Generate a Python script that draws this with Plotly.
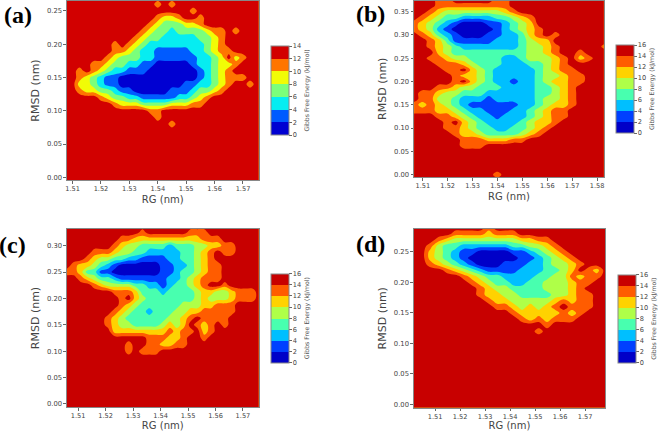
import numpy as np
import plotly.graph_objects as go

W, H = 658, 431
# Each string is one RMSD row (top to bottom); each digit is the free-energy band read from
# the picture: 0 = 0-2 kJ/mol, 1 = 2-4, ... Rows below the listed ones are all highest band.
rows_a = [
 "66666666666666666666566666666",
 "66666666666665656666666666666",
 "66666666666666666656666666666",
 "66666666666665445665666666666",
 "66666666666654333445666666666",
 "66666666666543323333455656666",
 "66666666665433222223345666666",
 "66666665654322222222345666666",
 "66666665543221111122345566666",
 "66666654333221111112234645666",
 "66665543322110000012234456666",
 "66565432211100000001234566666",
 "66543211000000000001234555666",
 "66443211000000000112234566566",
 "66544332110000011123345666666",
 "66666543322111112234566666666",
 "66666665444333344455666666666",
 "66666666666655666666666666666",
 "66666666666665666666666666666",
 "66666666666666656666666666666",
]
rows_b = [
 "777667777766777777777777",
 "777666666666777777777777",
 "776544444445677777777777",
 "765433222233456777777777",
 "654321000112345777777777",
 "654210000012345677777777",
 "765321000112235676777777",
 "776531111122234557777777",
 "776543222222234456777776",
 "777543333333334456776777",
 "776654433332234445675677",
 "777666543332223345677777",
 "777766754322222345667777",
 "777776554322222344566777",
 "777776754322122345566777",
 "777665443332222334567777",
 "766544333222222334567777",
 "766443222122222344567777",
 "656543211111122345567777",
 "666554322111223456677777",
 "777665432212223456677777",
 "777767543222234556777777",
 "777766543322334567777777",
 "777776554333345677777777",
 "777777666555667777777777",
 "777777666777777777777777",
 "777777777777777777777777",
 "777777777777777777777777",
 "777777777777777777777777",
 "777777777777777777777777",
 "777777777767777777777777",
]
rows_c = [
 "77777777777777777777777777777",
 "77777777777677777766677777777",
 "77777777665555555555666777777",
 "77777776544333323334455667777",
 "77776665443322222334567667777",
 "77765443322111122334567777777",
 "76554321000000112234566777777",
 "66533110000000112334566777777",
 "77654332111111122345666777777",
 "77776544443322123345677677777",
 "77777776665333233334554456667",
 "77777777675433333334544456667",
 "77777777654333333444556667777",
 "77777776543323334455666667777",
 "77777765433333344567666677777",
 "77777765443333454576567677777",
 "77777775555555565667567777777",
 "77777777777766655677677777777",
 "77777777767766556677777777777",
 "77777777767666777777777777777",
]
rows_d = [
 "777777777677777777777777",
 "777776666566677777777777",
 "777654444444455667777777",
 "776433222222334456777777",
 "775432110000112345677777",
 "775432100000011234567777",
 "776543210001112234456777",
 "777765432111122233457657",
 "777777654332222334465667",
 "777777765433223344456677",
 "777777776544333344456777",
 "777777776554433334456677",
 "777777777655444445656677",
 "777777777766545456766677",
 "777777777777655555656777",
 "777777777777765656667777",
 "777777777777777767777777",
 "777777777777777677777777",
]
letters = ["(a)", "(b)", "(c)", "(d)"]
cbar_title = "Gibbs Free Energy (kJ/mol)"
levels_a = [0, 2, 4, 6, 8, 10, 12, 14]
levels_bcd = [0, 2, 4, 6, 8, 10, 12, 14, 16]
colors_a = ["#0000d2", "#005bff", "#06edf1", "#7bff7b", "#f1fc06", "#ff7500", "#d20000"]
colors_bcd = ["#0000c8", "#0040ff", "#00bfff", "#48ffaf", "#afff48", "#ffd200", "#ff5c00", "#c80000"]


def stepped(cols):
    n = len(cols)
    out = []
    for i, c in enumerate(cols):
        out += [[i / n, c], [(i + 1) / n, c]]
    return out


def grid(rows, x0, dx, dy, top_k, bottom_k=-1):
    nx = len(rows[0])
    high = max(int(c) for r in rows for c in r)
    ks = list(range(bottom_k, top_k + 1))
    z = np.full((len(ks), nx), 2.0 * high + 1)
    for n, r in enumerate(rows):
        z[top_k - n - bottom_k, :] = [2 * int(c) + 1 for c in r]
    return x0 + dx * np.arange(nx), dy * np.array(ks), z


panels = [
    dict(g=grid(rows_a, 1.5075, 0.0025, 0.01, 27), xr=[1.508, 1.5755], yr=[-0.004, 0.265],
         box=(67, 259, 1, 180), cb=(271, 46, 135), lv=levels_a, col=colors_a, let=(18, 15)),
    dict(g=grid(rows_b, 1.5065, 0.00334, 0.0125, 30), xr=[1.5065, 1.5827], yr=[-0.005, 0.374],
         box=(414.7, 604.7, 0.5, 177), cb=(616.3, 45, 133), lv=levels_bcd, col=colors_bcd, let=(371, 14)),
    dict(g=grid(rows_c, 1.5059, 0.0025, 0.0125, 27), xr=[1.5059, 1.5757], yr=[-0.0057, 0.3315],
         box=(67, 259, 229, 407), cb=(271, 273.7, 362.7), lv=levels_bcd, col=colors_bcd, let=(13, 245)),
    dict(g=grid(rows_d, 1.5015, 0.00333, 0.01, 29), xr=[1.5015, 1.578], yr=[-0.005, 0.2876],
         box=(414.5, 606, 229, 407.5), cb=(618.3, 274.3, 362.7), lv=levels_bcd, col=colors_bcd, let=(371, 244)),
]

fig = go.Figure()
layout = dict(width=W, height=H, margin=dict(l=0, r=0, t=0, b=0), paper_bgcolor="white",
              plot_bgcolor="white", showlegend=False, font=dict(family="DejaVu Sans", color="#444"))
annots = []
for i, p in enumerate(panels):
    s = "" if i == 0 else str(i + 1)
    x, y, z = p["g"]
    l, r, t, b = p["box"]
    lv = p["lv"]
    cx, cy0, cy1 = p["cb"]
    fig.add_trace(go.Contour(
        x=x, y=y, z=z, xaxis="x" + s, yaxis="y" + s,
        autocontour=False, zmin=lv[0], zmax=lv[-1],
        contours=dict(start=lv[0], end=lv[-1], size=2, coloring="fill", showlines=False),
        line=dict(width=0), colorscale=stepped(p["col"]), hoverinfo="skip",
        colorbar=dict(
            x=cx / W, xanchor="left", xpad=0, ypad=0, thickness=18, thicknessmode="pixels",
            y=1 - cy1 / H, yanchor="bottom", len=cy1 - cy0, lenmode="pixels",
            tickmode="array", tickvals=lv, ticktext=[str(v) for v in lv], ticks="outside",
            ticklen=2.5, tickwidth=0.7, tickcolor="#666", tickfont=dict(size=6.6, color="#444"),
            outlinecolor="#888", outlinewidth=1, borderwidth=0,
            title=dict(text=cbar_title, side="right", font=dict(size=6.2, color="#555")),
        ),
    ))
    layout["xaxis" + s] = dict(
        domain=[l / W, r / W], range=p["xr"], anchor="y" + s, dtick=0.01, tick0=1.51, tickformat=".2f",
        showgrid=False, zeroline=False, showline=True, mirror=True, linecolor="#888", linewidth=1,
        ticks="outside", ticklen=2.5, tickwidth=0.7, tickcolor="#666", tickfont=dict(size=6.6, color="#444"),
        title=dict(text="RG (nm)", font=dict(size=10, color="#444"), standoff=3),
        automargin=False)
    layout["yaxis" + s] = dict(
        domain=[1 - b / H, 1 - t / H], range=p["yr"], anchor="x" + s, dtick=0.05, tick0=0, tickformat=".2f",
        showgrid=False, zeroline=False, showline=True, mirror=True, linecolor="#888", linewidth=1,
        ticks="outside", ticklen=2.5, tickwidth=0.7, tickcolor="#666", tickfont=dict(size=6.8, color="#444"),
        title=dict(text="RMSD (nm)", font=dict(size=11, color="#444"), standoff=5),
        automargin=False)
    lx, ly = p["let"]
    annots.append(dict(text="<b>" + letters[i] + "</b>", x=lx / W, y=1 - ly / H, xref="paper", yref="paper",
                       showarrow=False, xanchor="center", yanchor="middle",
                       font=dict(family="Liberation Serif", size=24, color="black")))
fig.update_layout(**layout, annotations=annots)
fig.write_html("out.html", config=dict(displayModeBar=False),
               post_script="document.body.style.margin='0';")
